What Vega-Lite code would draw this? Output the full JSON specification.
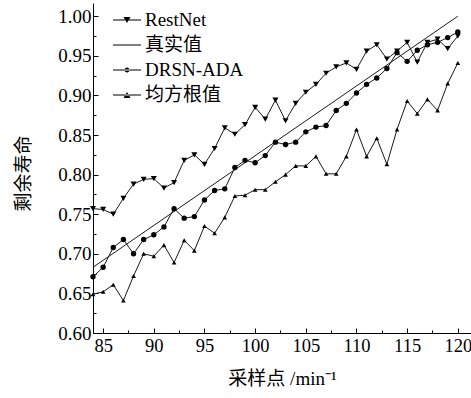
{
  "$schema": "https://vega.github.io/schema/vega-lite/v6.json",
  "autosize": "none",
  "padding": {"left": 93, "top": 3, "right": 0, "bottom": 65},
  "width": 378,
  "height": 330,
  "background": "white",
  "config": {
    "view": {"stroke": null},
    "axis": {
      "grid": false,
      "domainColor": "black",
      "domainWidth": 1,
      "tickColor": "black",
      "tickWidth": 1,
      "labelColor": "black",
      "labelFont": "'Liberation Serif', 'Times New Roman', 'Noto Sans CJK SC', serif",
      "labelFontSize": 19,
      "titleColor": "black",
      "titleFont": "'Liberation Serif', 'Times New Roman', 'Noto Sans CJK SC', serif",
      "titleFontSize": 19,
      "titleFontWeight": "normal"
    },
    "legend": {
      "labelFont": "'Liberation Serif', 'Times New Roman', 'Noto Sans CJK SC', serif",
      "labelFontSize": 19,
      "labelColor": "black"
    }
  },
  "data": {
    "values": [
      {"t": 84, "v": 0.757, "series": "RestNet"},
      {"t": 85, "v": 0.756, "series": "RestNet"},
      {"t": 86, "v": 0.750, "series": "RestNet"},
      {"t": 87, "v": 0.770, "series": "RestNet"},
      {"t": 88, "v": 0.788, "series": "RestNet"},
      {"t": 89, "v": 0.794, "series": "RestNet"},
      {"t": 90, "v": 0.795, "series": "RestNet"},
      {"t": 91, "v": 0.783, "series": "RestNet"},
      {"t": 92, "v": 0.790, "series": "RestNet"},
      {"t": 93, "v": 0.818, "series": "RestNet"},
      {"t": 94, "v": 0.825, "series": "RestNet"},
      {"t": 95, "v": 0.813, "series": "RestNet"},
      {"t": 96, "v": 0.833, "series": "RestNet"},
      {"t": 97, "v": 0.859, "series": "RestNet"},
      {"t": 98, "v": 0.851, "series": "RestNet"},
      {"t": 99, "v": 0.863, "series": "RestNet"},
      {"t": 100, "v": 0.885, "series": "RestNet"},
      {"t": 101, "v": 0.870, "series": "RestNet"},
      {"t": 102, "v": 0.894, "series": "RestNet"},
      {"t": 103, "v": 0.868, "series": "RestNet"},
      {"t": 104, "v": 0.890, "series": "RestNet"},
      {"t": 105, "v": 0.904, "series": "RestNet"},
      {"t": 106, "v": 0.914, "series": "RestNet"},
      {"t": 107, "v": 0.928, "series": "RestNet"},
      {"t": 108, "v": 0.936, "series": "RestNet"},
      {"t": 109, "v": 0.941, "series": "RestNet"},
      {"t": 110, "v": 0.933, "series": "RestNet"},
      {"t": 111, "v": 0.956, "series": "RestNet"},
      {"t": 112, "v": 0.964, "series": "RestNet"},
      {"t": 113, "v": 0.946, "series": "RestNet"},
      {"t": 114, "v": 0.956, "series": "RestNet"},
      {"t": 115, "v": 0.967, "series": "RestNet"},
      {"t": 116, "v": 0.942, "series": "RestNet"},
      {"t": 117, "v": 0.967, "series": "RestNet"},
      {"t": 118, "v": 0.971, "series": "RestNet"},
      {"t": 119, "v": 0.959, "series": "RestNet"},
      {"t": 120, "v": 0.975, "series": "RestNet"},
      {"t": 84, "v": 0.683, "series": "真实值"},
      {"t": 120, "v": 1.0, "series": "真实值"},
      {"t": 84, "v": 0.671, "series": "DRSN-ADA"},
      {"t": 85, "v": 0.683, "series": "DRSN-ADA"},
      {"t": 86, "v": 0.708, "series": "DRSN-ADA"},
      {"t": 87, "v": 0.718, "series": "DRSN-ADA"},
      {"t": 88, "v": 0.700, "series": "DRSN-ADA"},
      {"t": 89, "v": 0.718, "series": "DRSN-ADA"},
      {"t": 90, "v": 0.724, "series": "DRSN-ADA"},
      {"t": 91, "v": 0.734, "series": "DRSN-ADA"},
      {"t": 92, "v": 0.757, "series": "DRSN-ADA"},
      {"t": 93, "v": 0.745, "series": "DRSN-ADA"},
      {"t": 94, "v": 0.747, "series": "DRSN-ADA"},
      {"t": 95, "v": 0.768, "series": "DRSN-ADA"},
      {"t": 96, "v": 0.780, "series": "DRSN-ADA"},
      {"t": 97, "v": 0.782, "series": "DRSN-ADA"},
      {"t": 98, "v": 0.809, "series": "DRSN-ADA"},
      {"t": 99, "v": 0.818, "series": "DRSN-ADA"},
      {"t": 100, "v": 0.815, "series": "DRSN-ADA"},
      {"t": 101, "v": 0.824, "series": "DRSN-ADA"},
      {"t": 102, "v": 0.841, "series": "DRSN-ADA"},
      {"t": 103, "v": 0.838, "series": "DRSN-ADA"},
      {"t": 104, "v": 0.841, "series": "DRSN-ADA"},
      {"t": 105, "v": 0.854, "series": "DRSN-ADA"},
      {"t": 106, "v": 0.860, "series": "DRSN-ADA"},
      {"t": 107, "v": 0.862, "series": "DRSN-ADA"},
      {"t": 108, "v": 0.881, "series": "DRSN-ADA"},
      {"t": 109, "v": 0.890, "series": "DRSN-ADA"},
      {"t": 110, "v": 0.903, "series": "DRSN-ADA"},
      {"t": 111, "v": 0.914, "series": "DRSN-ADA"},
      {"t": 112, "v": 0.922, "series": "DRSN-ADA"},
      {"t": 113, "v": 0.934, "series": "DRSN-ADA"},
      {"t": 114, "v": 0.954, "series": "DRSN-ADA"},
      {"t": 115, "v": 0.943, "series": "DRSN-ADA"},
      {"t": 116, "v": 0.957, "series": "DRSN-ADA"},
      {"t": 117, "v": 0.964, "series": "DRSN-ADA"},
      {"t": 118, "v": 0.967, "series": "DRSN-ADA"},
      {"t": 119, "v": 0.973, "series": "DRSN-ADA"},
      {"t": 120, "v": 0.980, "series": "DRSN-ADA"},
      {"t": 84, "v": 0.649, "series": "均方根值"},
      {"t": 85, "v": 0.652, "series": "均方根值"},
      {"t": 86, "v": 0.661, "series": "均方根值"},
      {"t": 87, "v": 0.641, "series": "均方根值"},
      {"t": 88, "v": 0.672, "series": "均方根值"},
      {"t": 89, "v": 0.700, "series": "均方根值"},
      {"t": 90, "v": 0.697, "series": "均方根值"},
      {"t": 91, "v": 0.711, "series": "均方根值"},
      {"t": 92, "v": 0.689, "series": "均方根值"},
      {"t": 93, "v": 0.717, "series": "均方根值"},
      {"t": 94, "v": 0.704, "series": "均方根值"},
      {"t": 95, "v": 0.735, "series": "均方根值"},
      {"t": 96, "v": 0.726, "series": "均方根值"},
      {"t": 97, "v": 0.746, "series": "均方根值"},
      {"t": 98, "v": 0.773, "series": "均方根值"},
      {"t": 99, "v": 0.774, "series": "均方根值"},
      {"t": 100, "v": 0.781, "series": "均方根值"},
      {"t": 101, "v": 0.781, "series": "均方根值"},
      {"t": 102, "v": 0.791, "series": "均方根值"},
      {"t": 103, "v": 0.800, "series": "均方根值"},
      {"t": 104, "v": 0.811, "series": "均方根值"},
      {"t": 105, "v": 0.811, "series": "均方根值"},
      {"t": 106, "v": 0.823, "series": "均方根值"},
      {"t": 107, "v": 0.801, "series": "均方根值"},
      {"t": 108, "v": 0.801, "series": "均方根值"},
      {"t": 109, "v": 0.823, "series": "均方根值"},
      {"t": 110, "v": 0.857, "series": "均方根值"},
      {"t": 111, "v": 0.823, "series": "均方根值"},
      {"t": 112, "v": 0.846, "series": "均方根值"},
      {"t": 113, "v": 0.813, "series": "均方根值"},
      {"t": 114, "v": 0.857, "series": "均方根值"},
      {"t": 115, "v": 0.893, "series": "均方根值"},
      {"t": 116, "v": 0.877, "series": "均方根值"},
      {"t": 117, "v": 0.895, "series": "均方根值"},
      {"t": 118, "v": 0.881, "series": "均方根值"},
      {"t": 119, "v": 0.915, "series": "均方根值"},
      {"t": 120, "v": 0.941, "series": "均方根值"}
    ]
  },
  "encoding": {
    "x": {"field": "t", "type": "quantitative", "scale": {"domain": [84, 121.3], "nice": false, "zero": false}},
    "y": {"field": "v", "type": "quantitative", "scale": {"domain": [0.6, 1.0167], "nice": false, "zero": false}}
  },
  "layer": [
    {
      "mark": {"type": "line", "color": "#1a1a1a", "strokeWidth": 1},
      "encoding": {
        "detail": {"field": "series"},
        "x": {"field": "t", "type": "quantitative", "axis": {"orient": "bottom", "title": "采样点 /min⁻¹", "values": [85, 90, 95, 100, 105, 110, 115, 120], "tickSize": -5, "labelPadding": 8, "labelFontSize": 18.5, "titlePadding": 15}},
        "y": {"field": "v", "type": "quantitative", "axis": {"orient": "left", "title": "剩余寿命", "values": [0.6, 0.65, 0.7, 0.75, 0.8, 0.85, 0.9, 0.95, 1.0], "format": ".2f", "tickSize": -5, "labelPadding": 7, "titlePadding": 24, "titleY": 170}}
      }
    },
    {
      "transform": [{"filter": "datum.series !== '真实值'"}],
      "mark": {"type": "point", "filled": true, "color": "black", "opacity": 1},
      "encoding": {
        "x": {"field": "t", "type": "quantitative", "axis": {"orient": "bottom", "values": [87.5, 92.5, 97.5, 102.5, 107.5, 112.5, 117.5], "labels": false, "domain": false, "tickSize": -3, "title": null}},
        "y": {"field": "v", "type": "quantitative", "axis": {"orient": "left", "values": [0.625, 0.675, 0.725, 0.775, 0.825, 0.875, 0.925, 0.975], "labels": false, "domain": false, "tickSize": -3, "title": null}},
        "shape": {"field": "series", "type": "nominal", "legend": null, "scale": {"domain": ["RestNet", "DRSN-ADA", "均方根值"], "range": ["triangle-down", "circle", "triangle-up"]}},
        "size": {"field": "series", "type": "nominal", "legend": null, "scale": {"domain": ["RestNet", "DRSN-ADA", "均方根值"], "range": [36, 22, 36]}}
      }
    },
    {
      "mark": {"type": "point", "filled": true, "color": "black", "opacity": 0, "size": 400},
      "encoding": {
        "x": {"field": "t", "type": "quantitative", "axis": null},
        "y": {"field": "v", "type": "quantitative", "axis": null},
        "shape": {
          "field": "series", "type": "nominal",
          "scale": {
            "domain": ["RestNet", "真实值", "DRSN-ADA", "均方根值"],
            "range": [
              "M-1.4,-0.05H1.4V0.05H-1.4ZM-0.35,-0.3H0.35L0,0.3Z",
              "M-1.4,-0.05H1.4V0.05H-1.4Z",
              "M-1.4,-0.05H1.4V0.05H-1.4ZM-0.25,0A0.25,0.25,0,1,0,0.25,0A0.25,0.25,0,1,0,-0.25,0Z",
              "M-1.4,-0.05H1.4V0.05H-1.4ZM-0.35,0.3H0.35L0,-0.3Z"
            ]
          },
          "legend": {
            "title": null,
            "orient": "none",
            "legendX": 23,
            "legendY": 6,
            "symbolSize": 400,
            "labelOffset": 7,
            "rowPadding": 4,
            "encode": {
              "symbols": {
                "update": {
                  "fill": {"value": "#222222"},
                  "opacity": {"value": 1}
                }
              }
            }
          }
        }
      }
    }
  ],
  "resolve": {
    "axis": {"x": "independent", "y": "independent"},
    "scale": {"shape": "independent", "size": "independent"},
    "legend": {"shape": "independent"}
  }
}
